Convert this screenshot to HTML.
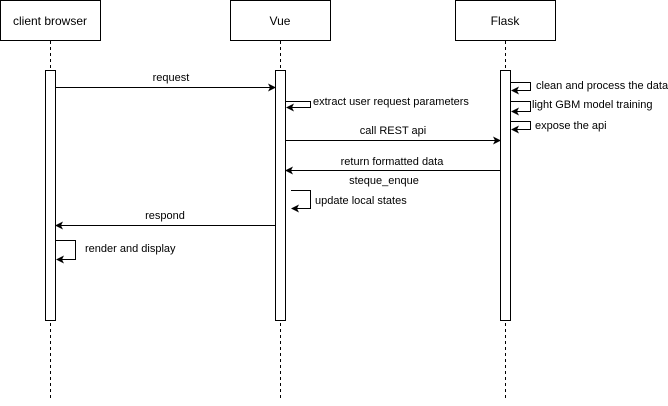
<!DOCTYPE html>
<html><head><style>body{margin:0;background:#fff}</style></head><body>
<svg width="668" height="401" xmlns="http://www.w3.org/2000/svg" font-family="Liberation Sans, sans-serif" font-size="11">
<defs><marker id="a" markerWidth="8" markerHeight="8" refX="7" refY="4" orient="auto" markerUnits="userSpaceOnUse"><path d="M0,0 L8,4 L0,8 L2,4 Z" fill="#000"/></marker></defs>
<g stroke="#000" fill="none">
<rect x="0.5" y="0.5" width="100" height="40" fill="#fff"/>
<rect x="230.5" y="0.5" width="100" height="40" fill="#fff"/>
<rect x="455.5" y="0.5" width="100" height="40" fill="#fff"/>
<g stroke-dasharray="3,3"><line x1="50.5" y1="41" x2="50.5" y2="400"/><line x1="280.5" y1="41" x2="280.5" y2="400"/><line x1="505.5" y1="41" x2="505.5" y2="400"/></g>
<rect x="45.5" y="70.5" width="10" height="250" fill="#fff"/>
<rect x="275.5" y="70.5" width="10" height="250" fill="#fff"/>
<rect x="500.5" y="70.5" width="10" height="250" fill="#fff"/>
<line x1="55" y1="87.5" x2="275" y2="87.5" marker-end="url(#a)"/>
<polyline points="286,101.5 310.5,101.5 310.5,107.5 287,107.5" marker-end="url(#a)"/>
<polyline points="511,82.5 530.5,82.5 530.5,90.5 512,90.5" marker-end="url(#a)"/>
<polyline points="511,101.5 530.5,101.5 530.5,111.5 512,111.5" marker-end="url(#a)"/>
<polyline points="511,121.5 530.5,121.5 530.5,129.5 512,129.5" marker-end="url(#a)"/>
<line x1="285" y1="140.5" x2="500" y2="140.5" marker-end="url(#a)"/>
<line x1="500" y1="170.5" x2="286" y2="170.5" marker-end="url(#a)"/>
<polyline points="291,190.5 310.5,190.5 310.5,208.5 292,208.5" marker-end="url(#a)"/>
<line x1="275" y1="225.5" x2="56" y2="225.5" marker-end="url(#a)"/>
<polyline points="56,240.5 75.5,240.5 75.5,259.5 57,259.5" marker-end="url(#a)"/>
</g>
<g fill="#000" font-size="12" text-anchor="middle">
<text x="50" y="25">client browser</text><text x="280" y="25">Vue</text><text x="505" y="25">Flask</text>
</g>
<g fill="#000">
<text x="171" y="81" text-anchor="middle">request</text>
<text x="313" y="105">extract user request parameters</text>
<text x="536" y="89">clean and process the data</text>
<text x="532" y="108">light GBM model training</text>
<text x="535" y="129">expose the api</text>
<text x="393" y="134" text-anchor="middle">call REST api</text>
<text x="392" y="165" text-anchor="middle">return formatted data</text>
<text x="384" y="184" text-anchor="middle">steque_enque</text>
<text x="315" y="204">update local states</text>
<text x="165" y="219" text-anchor="middle">respond</text>
<text x="85" y="252">render and display</text>
</g>
</svg>
</body></html>
